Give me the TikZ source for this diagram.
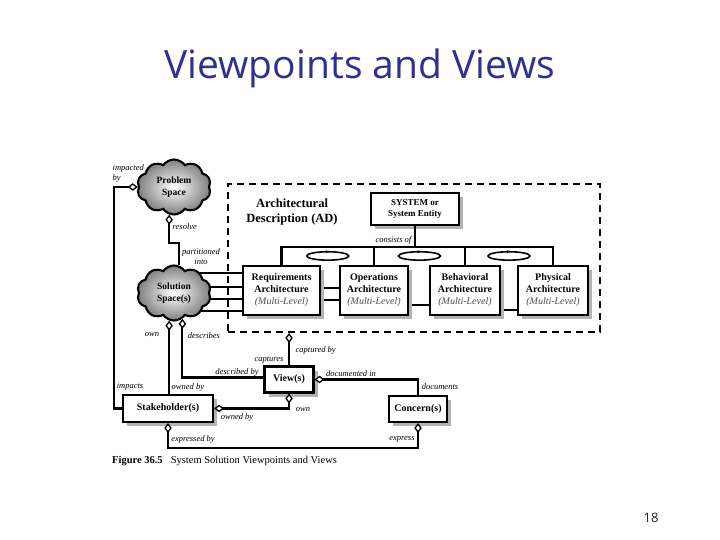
\documentclass[tikz,border=0pt]{standalone}
\usepackage{fontspec}
\setmainfont{Liberation Serif}
\newfontfamily\titlefont{Open Sans}
\usetikzlibrary{arrows.meta,shapes.symbols,shadows,calc,backgrounds}
\definecolor{titleblue}{RGB}{46,49,146}
\begin{document}
\begin{tikzpicture}[x=1pt,y=-1pt,
  agg/.tip={Diamond[fill=white,length=10pt,width=7.5pt,line width=1.3pt]},
  conn/.style={line width=2.1pt},
  box/.style={draw, line width=2.1pt, fill=white, align=center, inner sep=0pt,
    drop shadow={shadow xshift=4pt, shadow yshift=-4pt, fill=black!30, opacity=1},
    font=\fontsize{10}{12}\selectfont\bfseries},
  cloudnode/.style={cloud, cloud puffs=10, cloud puff arc=110, aspect=1.3, draw, line width=2.1pt,
    inner color=white, outer color=black!50, minimum width=74pt, minimum height=55pt,
    inner sep=0pt, align=center, font=\fontsize{9.5}{11.5}\selectfont\bfseries},
  lbl/.style={font=\fontsize{8.5}{10}\selectfont\itshape, inner sep=0.5pt},
]
\useasboundingbox (0,0) rectangle (720,540);

% title and page number
\node[anchor=base, font=\titlefont\fontsize{39}{44}\selectfont, text=titleblue] (title) at (360,79) {Viewpoints and Views};
\node[anchor=base, font=\titlefont\fontsize{13}{15}\selectfont, text=black!85] (page) at (651,522) {18};

% dashed AD frame
\node[draw, dash pattern=on 7pt off 5pt, line width=2pt, minimum width=372pt, minimum height=148pt, inner sep=0pt] (adbox) at (414,258) {};
\node[align=center, font=\fontsize{12.5}{15}\selectfont\bfseries] (adl) at (292,212) {Architectural\\Description (AD)};

% clouds
\node[cloudnode] (ps) at (174,187) {Problem\\Space};
\node[cloudnode] (ss) at (174,293) {Solution\\Space(s)};

% boxes
\node[box, minimum width=88pt, minimum height=32pt, font=\fontsize{9}{11.5}\selectfont\bfseries] (sys) at (415,209) {SYSTEM or\\System Entity};
\node[box, minimum width=77pt, minimum height=49pt] (req) at (281.5,290.5) {Requirements\\Architecture\\{\mdseries\itshape\color{black!70}(Multi-Level)}};
\node[box, minimum width=68pt, minimum height=49pt] (ops) at (374,290.5) {Operations\\Architecture\\{\mdseries\itshape\color{black!70}(Multi-Level)}};
\node[box, minimum width=70pt, minimum height=49pt] (beh) at (465,290.5) {Behavioral\\Architecture\\{\mdseries\itshape\color{black!70}(Multi-Level)}};
\node[box, minimum width=70pt, minimum height=49pt] (phy) at (553,290.5) {Physical\\Architecture\\{\mdseries\itshape\color{black!70}(Multi-Level)}};
\node[box, minimum width=49pt, minimum height=26pt] (view) at (289,379.5) {View(s)};
\node[box, minimum width=90pt, minimum height=27pt] (stake) at (168,408.5) {Stakeholder(s)};
\node[box, minimum width=58pt, minimum height=26pt] (conc) at (418,409) {Concern(s)};

% lines behind clouds and boxes
\begin{scope}[on background layer]
  \foreach \yy in {273,287,299,311}
    \draw[conn] (ss.center |- 0,\yy) -- (req.west |- 0,\yy);
  \draw[conn] (req.east |- 0,288) -- (ops.west |- 0,288);
  \draw[conn] (req.east |- 0,300) -- (ops.west |- 0,300);
  \draw[conn] (ops.east |- 0,305) -- (beh.west |- 0,305);
  \draw[conn] (beh.east |- 0,310) -- (phy.west |- 0,310);
\end{scope}

% consists of
\coordinate (bar) at (sys.south |- 0,247);
\draw[conn] (sys.south) -- (bar);
\draw[conn] (req.north) |- (bar) -| (phy.north);
\draw[conn] (ops.north) -- (ops.north |- bar);
\draw[conn] (beh.north) -- (beh.north |- bar);
\node[lbl, anchor=east] (lcons) at ($(sys.south |- 0,240)+(-3,0)$) {consists of};
\foreach \a/\b in {req/ops,ops/beh,beh/phy}{
  \coordinate (m) at ($(\a.north)!.5!(\b.north)+(0,-9)$);
  \draw[line width=1.6pt] (m) ellipse [x radius=21, y radius=4.2];
  \draw[line width=0.8pt, -{Latex[length=3pt,width=3.5pt]}] ($(m)+(-3,-4.2)$) -- ($(m)+(1,-4.2)$);
}

% connectors
\draw[conn, agg-] (ps.west) -- ++(-24,0) |- (stake.west);
\node[lbl, align=left, anchor=north west] (limp) at (112,164) {impacted\\by};
\node[lbl] (limps) at (130,387) {impacts};

\draw[conn, agg-] (ps.-100) -- (ps.-100 |- 0,243) -| (ss.80);
\node[lbl, anchor=west] (lres) at (172,227) {resolve};
\node[lbl, align=center] (lpart) at (201,257) {partitioned\\into};

\draw[conn, agg-] (ss.-100) -- (ss.-100 |- stake.north);
\node[lbl] (lown) at (152,335) {own};
\node[lbl, anchor=west] (lownd) at (171,387) {owned by};

\draw[conn, agg-] (ss.-72) |- ([yshift=2pt]view.west);
\node[lbl] (ldesc) at (204,336) {describes};
\node[lbl] (ldescd) at (237,372) {described by};

\draw[conn, agg-] (adbox.south -| view.north) -- (view.north);
\node[lbl, anchor=west] (lcapd) at (295,350) {captured by};
\node[lbl] (lcap) at (269,360) {captures};

\draw[conn, agg-] (view.east) -| (conc.north);
\node[lbl] (ldocin) at (351,374) {documented in};
\node[lbl] (ldocs) at (440,387) {documents};

\draw[conn, agg-agg] (view.south) |- (stake.east);
\node[lbl] (lown2) at (303,410) {own};
\node[lbl] (lownd2) at (237,417) {owned by};

\draw[conn, agg-agg] (stake.south) -- ++(0,25) -| (conc.south);
\node[lbl] (lexpd) at (193,439) {expressed by};
\node[lbl] (lexp) at (402,439) {express};

% caption
\node[anchor=base west, inner sep=0pt, font=\fontsize{10.5}{12}\selectfont] (capt) at (112,463) {\textbf{Figure 36.5}\hspace{8pt}System Solution Viewpoints and Views};
\end{tikzpicture}
\end{document}
